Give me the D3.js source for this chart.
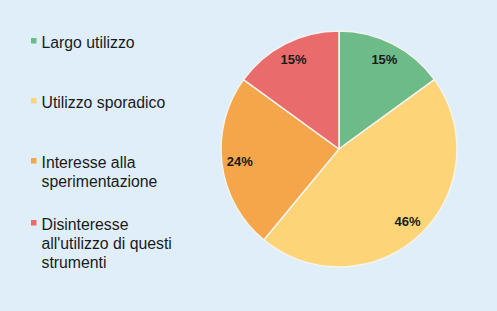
<!DOCTYPE html>
<html lang="it">
<head>
<meta charset="UTF-8">
<title>Pie</title>
<script src="https://d3js.org/d3.v7.min.js"></script>
<style>
  html, body { margin: 0; padding: 0; background: #dfeef9; }
  svg { display: block; }
  .legend text { font-family: "Liberation Sans", Arial, sans-serif; font-size: 15.8px; fill: #1a1a1a; }
  .lbl { font-family: "Liberation Sans", Arial, sans-serif; font-size: 13px; font-weight: bold; fill: #1a1a1a; }
</style>
</head>
<body>
<svg width="497" height="311"></svg>
<script>
// data
var categories = ["Largo utilizzo", "Utilizzo sporadico", "Interesse alla sperimentazione", "Disinteresse all'utilizzo di questi strumenti"];
var values = [15, 46, 24, 15];
var legendLines = [
  ["Largo utilizzo"],
  ["Utilizzo sporadico"],
  ["Interesse alla", "sperimentazione"],
  ["Disinteresse", "all'utilizzo di questi", "strumenti"]
];
var colors = ["#6dbb89", "#fed478", "#f5a64b", "#e96b6b"];

var svg = d3.select("svg");
var cx = 339, cy = 149, r = 118;

var pie = d3.pie().sort(null).value(function(d) { return d; });
var arcs = pie(values);
var arc = d3.arc().innerRadius(0).outerRadius(r);
var labelArc = d3.arc().innerRadius(100).outerRadius(100);

var g = svg.append("g").attr("transform", "translate(" + cx + "," + cy + ")");

g.selectAll("path")
  .data(arcs)
  .enter().append("path")
  .attr("d", arc)
  .attr("fill", function(d, i) { return colors[i]; })
  .attr("stroke", "#f4f4ee")
  .attr("stroke-width", 1.5);

g.selectAll("text")
  .data(arcs)
  .enter().append("text")
  .attr("class", "lbl")
  .attr("transform", function(d) { return "translate(" + labelArc.centroid(d) + ")"; })
  .attr("text-anchor", "middle")
  .attr("dy", "0.35em")
  .text(function(d) { return d.data + "%"; });

// legend
var legendY = [48, 108, 168, 230];
var leg = svg.append("g").attr("class", "legend");
legendLines.forEach(function(lines, i) {
  leg.append("rect")
    .attr("x", 31).attr("y", legendY[i] - 10)
    .attr("width", 5.5).attr("height", 5.5)
    .attr("fill", colors[i]);
  var t = leg.append("text").attr("x", 41.5).attr("y", legendY[i]);
  lines.forEach(function(s, j) {
    t.append("tspan").attr("x", 41.5).attr("dy", j === 0 ? 0 : 19.2).text(s);
  });
});
</script>
</body>
</html>
